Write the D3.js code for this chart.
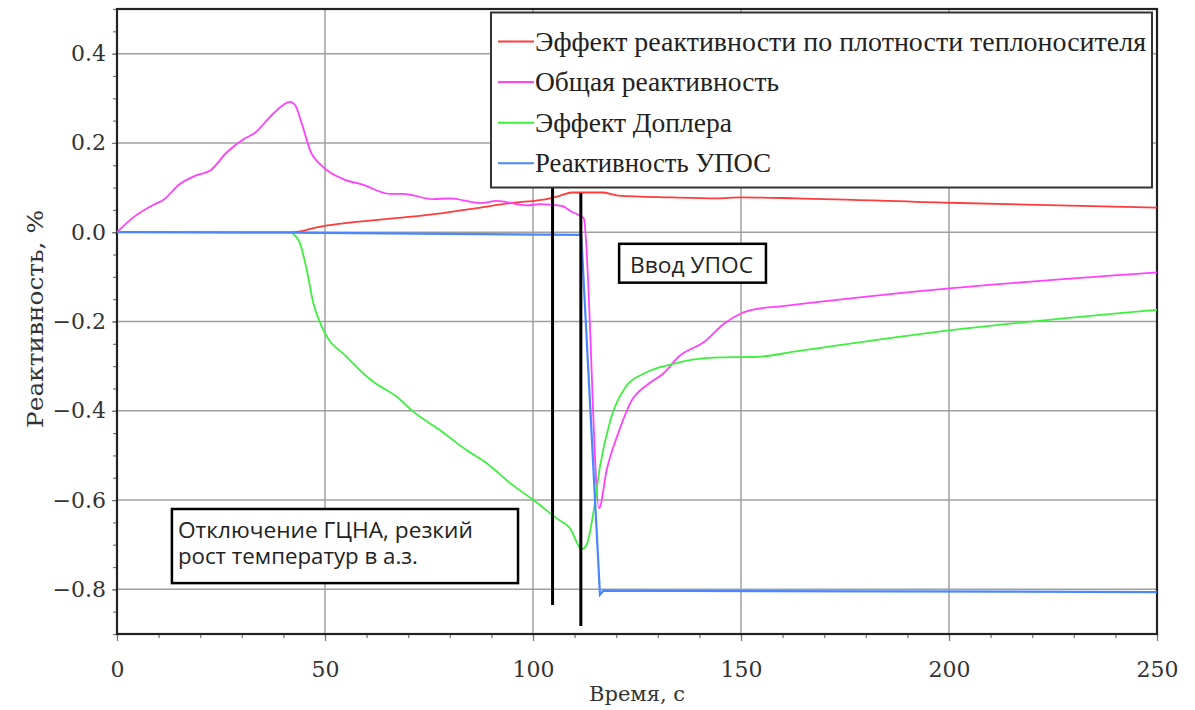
<!DOCTYPE html>
<html>
<head>
<meta charset="utf-8">
<script src="https://cdn.jsdelivr.net/npm/d3@7"></script>
<style>
  html, body { margin: 0; padding: 0; background: #fff; }
  svg { display: block; }
</style>
</head>
<body>
<div id="chart"></div>
<script>
// time, s and reactivity, %
const densityT = [0, 41.6, 44.0, 48.0, 54.4, 66.4, 78.4, 86.5, 94.5, 104.1, 106.5, 109.3, 116.9, 120.5, 133.2, 144.1, 150, 163.2, 200, 250];
const densityV = [0, 0, 0.002, 0.011, 0.020, 0.031, 0.043, 0.054, 0.065, 0.076, 0.082, 0.089, 0.089, 0.082, 0.078, 0.076, 0.078, 0.076, 0.066, 0.055];

const totalT = [0, 4.3, 8.7, 11.1, 15.1, 19.2, 22.4, 26.3, 30.4, 33.2, 37.6, 41.6, 42.8, 44.4, 46.4, 49.6, 54.4, 59.2, 65.6, 68.8, 76.0, 80.0, 87.3, 91.3, 98.5, 101.7, 106.9, 109.3, 111.3, 112.2, 115.9, 117.7, 120.5, 123.6, 127.7, 131.4, 135.0, 141.4, 145.9, 150, 153.2, 160.5, 200, 250];
const totalV = [0, 0.036, 0.061, 0.072, 0.108, 0.128, 0.138, 0.178, 0.208, 0.223, 0.266, 0.292, 0.285, 0.244, 0.184, 0.146, 0.119, 0.106, 0.086, 0.086, 0.074, 0.076, 0.065, 0.070, 0.060, 0.063, 0.059, 0.046, 0.037, 0.031, -0.618, -0.533, -0.450, -0.379, -0.340, -0.316, -0.279, -0.244, -0.205, -0.182, -0.173, -0.165, -0.126, -0.090];

const dopplerT = [0, 42, 42.4, 44.0, 45.6, 47.2, 49.6, 55.2, 61.6, 67.2, 71.2, 77.6, 84.0, 88.8, 94.5, 100.1, 105.7, 108.9, 111.7, 112.9, 114.5, 116.1, 118.6, 122.3, 126.8, 133.2, 143.2, 154.1, 163.2, 200, 250];
const dopplerV = [0, 0, -0.004, -0.025, -0.084, -0.159, -0.219, -0.279, -0.335, -0.368, -0.402, -0.443, -0.488, -0.517, -0.562, -0.600, -0.641, -0.663, -0.710, -0.700, -0.629, -0.525, -0.421, -0.346, -0.316, -0.296, -0.281, -0.279, -0.267, -0.220, -0.174];

const uposT = [0, 42, 111.6, 116.1, 116.9, 250];
const uposV = [0, -0.001, -0.006, -0.812, -0.803, -0.806];

const seriesNames = [
    'Эффект реактивности по плотности теплоносителя',
    'Общая реактивность',
    'Эффект Доплера',
    'Реактивность УПОС'
];
const seriesColors = ['#ff3b3b', '#ff40ff', '#3ef03e', '#4a86ff'];

const xTicks = [0, 50, 100, 150, 200, 250];
const yTicks = [-0.8, -0.6, -0.4, -0.2, 0.0, 0.2, 0.4];

// vertical marker lines: time, top and bottom reactivity
const markerT = [104.7, 111.5];
const markerTop = [0.101, 0.088];
const markerBottom = [-0.835, -0.882];

// text boxes: [t0, t1, v0, v1]
const noteLines = [['Ввод УПОС'], ['Отключение ГЦНА, резкий', 'рост температур в а.з.']];
const noteWidths = [[123], [295, 240]];
const noteBoxes = [[120.7, 156.0, -0.026, -0.113], [13.2, 96.4, -0.620, -0.786]];

const W = 1195, H = 710;
const margin = { top: 9, right: 38, bottom: 76, left: 117 };

const svg = d3.select('#chart')
    .append('svg')
    .attr('width', W)
    .attr('height', H);

const x = d3.scaleLinear().domain([0, 250]).range([margin.left, W - margin.right]);
const y = d3.scaleLinear().domain([-0.9, 0.5]).range([H - margin.bottom, margin.top]);

const serif = 'DejaVu Serif, serif';

// grid
svg.append('g')
    .selectAll('line')
    .data(xTicks)
    .join('line')
    .attr('x1', (d) => x(d)).attr('x2', (d) => x(d))
    .attr('y1', y.range()[1]).attr('y2', y.range()[0])
    .attr('stroke', '#a0a0a0')
    .attr('stroke-width', 1.5);

svg.append('g')
    .selectAll('line')
    .data(yTicks)
    .join('line')
    .attr('x1', x.range()[0]).attr('x2', x.range()[1])
    .attr('y1', (d) => y(d)).attr('y2', (d) => y(d))
    .attr('stroke', '#a0a0a0')
    .attr('stroke-width', 1.5);

// axes
const xAxis = svg.append('g')
    .attr('transform', `translate(0, ${y.range()[0]})`)
    .call(d3.axisBottom(x).tickValues(xTicks).tickSize(7).tickPadding(20).tickFormat(d3.format('d')));
svg.append('g')
    .attr('transform', `translate(0, ${y.range()[0]})`)
    .call(d3.axisBottom(x).tickValues(d3.range(0, 251, 10)).tickSize(4).tickFormat(''))
    .call((g) => g.select('.domain').remove());

const yAxis = svg.append('g')
    .attr('transform', `translate(${x.range()[0]}, 0)`)
    .call(d3.axisLeft(y).tickValues(yTicks).tickSize(5).tickPadding(6).tickFormat(d3.format('.1f')));
svg.append('g')
    .attr('transform', `translate(${x.range()[0]}, 0)`)
    .call(d3.axisLeft(y).tickValues(d3.range(-18, 11).map((k) => k * 0.05)).tickSize(4).tickFormat(''))
    .call((g) => g.select('.domain').remove());

svg.selectAll('.tick line').attr('stroke', '#777').attr('stroke-width', 1.2);
svg.selectAll('.domain').remove();
[xAxis, yAxis].forEach((g) => g.selectAll('text')
    .attr('font-family', serif)
    .style('font-family', serif)
    .style('font-size', '22px')
    .attr('fill', '#333'));

// plot frame
svg.append('rect')
    .attr('x', x.range()[0]).attr('y', y.range()[1])
    .attr('width', x.range()[1] - x.range()[0])
    .attr('height', y.range()[0] - y.range()[1])
    .attr('fill', 'none')
    .attr('stroke', '#222')
    .attr('stroke-width', 2.2);

// axis titles
svg.append('text')
    .attr('x', (x.range()[0] + x.range()[1]) / 2)
    .attr('y', 701)
    .attr('text-anchor', 'middle')
    .style('font-family', serif)
    .style('font-size', '21px')
    .attr('fill', '#333')
    .text('Время, с');

svg.append('text')
    .attr('transform', 'translate(43, 319) rotate(-90)')
    .attr('text-anchor', 'middle')
    .attr('textLength', 218)
    .attr('lengthAdjust', 'spacingAndGlyphs')
    .style('font-family', serif)
    .style('font-size', '23px')
    .attr('fill', '#333')
    .text('Реактивность, %');

// series
const seriesT = [densityT, totalT, dopplerT, uposT];
const seriesV = [densityV, totalV, dopplerV, uposV];

const line = d3.line()
    .x((d) => x(d[0]))
    .y((d) => y(d[1]));

const plot = svg.append('g');
seriesT.forEach((ts, i) => {
    const pts = ts.map((t, j) => [t, seriesV[i][j]]);
    plot.append('path')
        .datum(pts)
        .attr('d', line.curve(i === 3 ? d3.curveLinear : d3.curveMonotoneX)(pts))
        .attr('fill', 'none')
        .attr('stroke', seriesColors[i])
        .attr('stroke-width', i === 3 ? 2.2 : 1.8);
});

// marker lines
svg.append('g')
    .selectAll('line')
    .data(markerT)
    .join('line')
    .attr('x1', (d) => x(d)).attr('x2', (d) => x(d))
    .attr('y1', (d, i) => y(markerTop[i]))
    .attr('y2', (d, i) => y(markerBottom[i]))
    .attr('stroke', '#000')
    .attr('stroke-width', 3);

// note boxes
noteBoxes.forEach((b, i) => {
    const g = svg.append('g');
    g.append('rect')
        .attr('x', x(b[0])).attr('y', y(b[2]))
        .attr('width', x(b[1]) - x(b[0]))
        .attr('height', y(b[3]) - y(b[2]))
        .attr('fill', '#fff')
        .attr('stroke', '#000')
        .attr('stroke-width', 2.5);
    const top = y(b[2]);
    noteLines[i].forEach((s, k) => {
        g.append('text')
            .attr('x', x(b[0]) + (i === 0 ? 11 : 6))
            .attr('y', top + 29 + k * 26)
            .attr('textLength', noteWidths[i][k])
            .attr('lengthAdjust', 'spacingAndGlyphs')
            .style('font-family', 'Open Sans, Noto Sans, sans-serif')
            .style('font-size', i === 0 ? '22px' : '21.5px')
            .attr('fill', '#222')
            .text(s);
    });
});

// legend
const legend = svg.append('g');
legend.append('rect')
    .attr('x', 491).attr('y', 12.5)
    .attr('width', 661).attr('height', 175)
    .attr('fill', '#fff')
    .attr('stroke', '#333')
    .attr('stroke-width', 2);

const legendWidths = [611, 244, 197, 236];
seriesNames.forEach((name, i) => {
    const cy = 41.5 + i * 40.6;
    legend.append('line')
        .attr('x1', 498).attr('x2', 534)
        .attr('y1', cy).attr('y2', cy)
        .attr('stroke', seriesColors[i])
        .attr('stroke-width', 2);
    legend.append('text')
        .attr('x', 535)
        .attr('y', cy + 9)
        .attr('textLength', legendWidths[i])
        .attr('lengthAdjust', 'spacingAndGlyphs')
        .style('font-family', 'Liberation Serif, serif')
        .style('font-size', '28px')
        .attr('fill', '#222')
        .text(name);
});
</script>
</body>
</html>
